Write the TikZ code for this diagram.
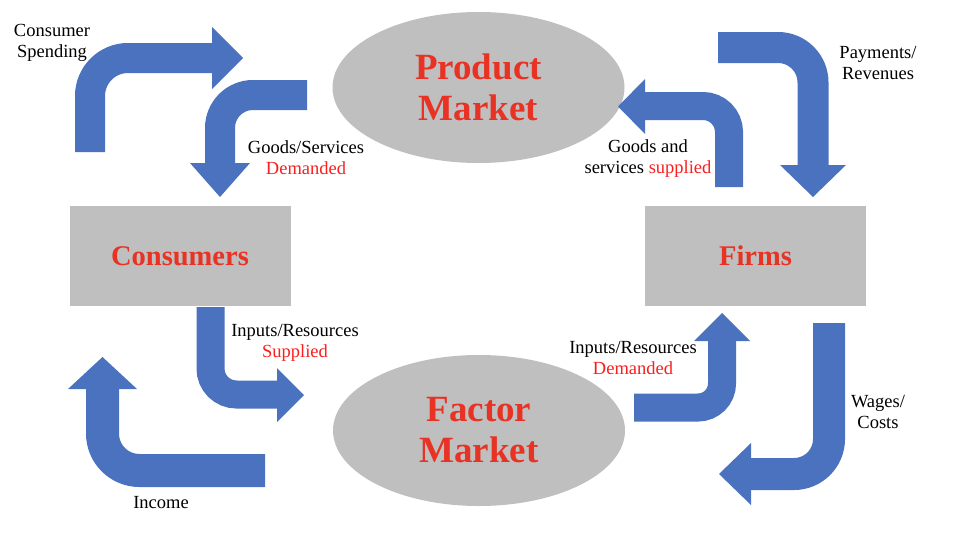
\documentclass[tikz,border=0pt]{standalone}
\usepackage{fontspec}
\setmainfont{Liberation Serif}
\usetikzlibrary{shapes.geometric}
\definecolor{blk}{RGB}{74,114,190}
\definecolor{boxgray}{RGB}{191,191,191}
\definecolor{bigred}{RGB}{232,50,36}
\definecolor{smred}{RGB}{250,30,30}
\begin{document}
\begin{tikzpicture}[x=1pt,y=-1pt,
  market/.style={ellipse, fill=boxgray, minimum width=292pt, minimum height=151pt, inner sep=0pt,
    font=\fontsize{37}{41}\selectfont\bfseries, text=bigred, align=center},
  agent/.style={rectangle, fill=boxgray, minimum width=221pt, minimum height=100pt, inner sep=0pt,
    font=\fontsize{28.5}{32}\selectfont\bfseries, text=bigred},
  lbl/.style={font=\fontsize{18.5}{21}\selectfont, align=center, inner sep=0pt},
  shaft/.style={draw=blk, line width=#1, rounded corners=35pt},
  head/.style={fill=blk},
]
\useasboundingbox (0,0) rectangle (953,533);

% markets and agents
\node[market] (pm) at (478.5,87.5) {Product\\Market};
\node[market] (fm) at (479,430.5) {Factor\\Market};
\node[agent] (cons) at (180,256) {Consumers};
\node[agent] (firm) at (755.5,256) {Firms};

% 1 Consumer spending
\draw[shaft=30pt, rounded corners=38pt] (90,152) -- (90,58) -- (212.5,58);
\fill[head] (212,27) -- (243,58) -- (212,89) -- cycle;
% 2 Goods/Services demanded
\draw[shaft=30pt, rounded corners=33pt] (307,95) -- (220,95) -- (220,163.5);
\fill[head] (190,163) -- (250,163) -- (220,197) -- cycle;
% 3 Payments/Revenues
\draw[shaft=31pt] (718,47.5) -- (813,47.5) -- (813,165.5);
\fill[head] (780,165) -- (846,165) -- (813,197) -- cycle;
% 4 Goods and services supplied
\draw[shaft=28pt, rounded corners=26pt] (729,187) -- (729,106) -- (644.5,106);
\fill[head] (645,79) -- (618,106.5) -- (645,134) -- cycle;
% 5 Inputs/Resources supplied
\draw[shaft=28pt, rounded corners=26pt] (210.5,307) -- (210.5,394.5) -- (277.5,394.5);
\fill[head] (277,368) -- (304,395) -- (277,422) -- cycle;
% 6 Income
\draw[shaft=33pt, rounded corners=37pt] (265,470.5) -- (102.5,470.5) -- (102.5,388.5);
\fill[head] (68,389) -- (102.5,357) -- (137,389) -- cycle;
% 7 Inputs/Resources demanded
\draw[shaft=28pt, rounded corners=24pt] (634,407.5) -- (722,407.5) -- (722,340.5);
\fill[head] (694,341) -- (722,313) -- (750,341) -- cycle;
% 8 Wages/Costs
\draw[shaft=32pt] (829,323) -- (829,474) -- (750.5,474);
\fill[head] (751,443) -- (719,474) -- (751,505) -- cycle;

% labels
\node[lbl] (l1) at (52,43) {Consumer\\Spending};
\node[lbl] (l2) at (306,158) {Goods/Services\\\textcolor{smred}{Demanded}};
\node[lbl] (l3) at (878,63) {Payments/\\Revenues};
\node[lbl] (l4) at (648,159) {Goods and\\services \textcolor{smred}{supplied}};
\node[lbl] (l5) at (295,343) {Inputs/Resources\\\textcolor{smred}{Supplied}};
\node[lbl] (l6) at (161,503) {Income};
\node[lbl] (l7) at (633,358) {Inputs/Resources\\\textcolor{smred}{Demanded}};
\node[lbl] (l8) at (878,412) {Wages/\\Costs};
\end{tikzpicture}
\end{document}
